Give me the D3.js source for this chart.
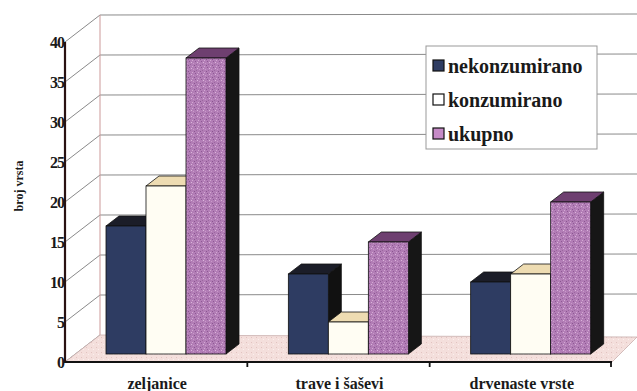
<!DOCTYPE html>
<html>
<head>
<meta charset="utf-8">
<script src="https://cdn.jsdelivr.net/npm/d3@7"></script>
<style>
  body { margin: 0; background: #fff; }
</style>
</head>
<body>
<div id="chart"></div>
<script>
const categories = ["zeljanice", "trave i šaševi", "drvenaste vrste"]
const seriesNames = ["nekonzumirano", "konzumirano", "ukupno"]
const nekonzumirano = [16, 10, 9]
const konzumirano = [21, 4, 10]
const ukupno = [37, 14, 19]
const yTicks = [0, 5, 10, 15, 20, 25, 30, 35, 40]

const seriesValues = [nekonzumirano, konzumirano, ukupno]
const front = { nekonzumirano: "#2e3c62", konzumirano: "#fffdf3", ukupno: "url(#speckle)" }
const topC = { nekonzumirano: "#1b1d28", konzumirano: "#eedcb2", ukupno: "#6e3f70" }
const sideC = { nekonzumirano: "#111", konzumirano: "#111", ukupno: "#161616" }
const legendFill = { nekonzumirano: "#2e3c62", konzumirano: "#fff", ukupno: "#c58ac6" }

const W = 637, H = 391
const depth = { dx: 35, dy: -27 }     // back wall offset
const barShift = { dx: 11, dy: -8 }   // bars sit a bit behind the front edge
const barDepth = { dx: 13, dy: -10 }
const FONT = '"Liberation Serif"'

const svg = d3.select("#chart").append("svg").attr("width", W).attr("height", H)
const defs = svg.append("defs")

// speckled purple fill
const pat = defs.append("pattern").attr("id", "speckle").attr("patternUnits", "userSpaceOnUse")
  .attr("width", 6).attr("height", 6)
pat.append("rect").attr("width", 6).attr("height", 6).attr("fill", "#b27db6")
;[[0,0,"#d3a8d3"],[3,1,"#8e5a94"],[1,3,"#c999c9"],[4,4,"#9b679f"],[5,2,"#dab5da"],[2,5,"#8a5690"]]
  .forEach(([x,y,c]) => pat.append("rect").attr("x", x).attr("y", y).attr("width", 1).attr("height", 1).attr("fill", c))

const floorPat = defs.append("pattern").attr("id", "floor").attr("patternUnits", "userSpaceOnUse")
  .attr("width", 5).attr("height", 5)
floorPat.append("rect").attr("width", 5).attr("height", 5).attr("fill", "#f4dfdc")
floorPat.append("rect").attr("x", 1).attr("y", 2).attr("width", 1).attr("height", 1).attr("fill", "#e2c3c0")
floorPat.append("rect").attr("x", 3).attr("y", 4).attr("width", 1).attr("height", 1).attr("fill", "#fbf0ee")

const xL = 65, xR = 612
const y = d3.scaleLinear().domain([0, 40]).range([362, 42])
const x0 = d3.scaleBand().domain(categories).range([xL, xR])
const x1 = d3.scaleBand().domain(seriesNames).range([30, 150])

const grid = svg.append("g").attr("stroke", "#8a8a8a").attr("stroke-width", 1).attr("fill", "none")

// back wall gridlines
yTicks.slice(1).forEach(v => {
  grid.append("line").attr("x1", xL + depth.dx).attr("x2", W)
    .attr("y1", y(v) + depth.dy).attr("y2", y(v) + depth.dy - 1)
})
// left wall diagonals
yTicks.forEach(v => {
  grid.append("line").attr("x1", xL).attr("y1", y(v))
    .attr("x2", xL + depth.dx).attr("y2", y(v) + depth.dy)
})
grid.append("line").attr("x1", xL + depth.dx).attr("x2", xL + depth.dx)
  .attr("y1", y(40) + depth.dy).attr("y2", y(0) + depth.dy).attr("stroke", "#c99")

// floor
svg.append("path")
  .attr("d", `M${xL},${y(0)} L${xR},${y(0)} L${W},${y(0) + depth.dy + 2} L${xL + depth.dx},${y(0) + depth.dy} Z`)
  .attr("fill", "url(#floor)").attr("stroke", "#c9b0ae").attr("stroke-width", 0.8)

// bars
const bars = svg.append("g")
categories.forEach((c, i) => {
  seriesNames.forEach((s, j) => {
    const v = seriesValues[j][i]
    const bx = x0(c) + x1(s) + barShift.dx
    const bw = x1.bandwidth()
    const by0 = y(0) + barShift.dy
    const by1 = y(v) + barShift.dy
    const g = bars.append("g").attr("stroke", "#111").attr("stroke-width", 0.8)
    g.append("path").attr("fill", sideC[s])
      .attr("d", `M${bx + bw},${by1} L${bx + bw + barDepth.dx},${by1 + barDepth.dy} L${bx + bw + barDepth.dx},${by0 + barDepth.dy} L${bx + bw},${by0} Z`)
    g.append("path").attr("fill", topC[s])
      .attr("d", `M${bx},${by1} L${bx + barDepth.dx},${by1 + barDepth.dy} L${bx + bw + barDepth.dx},${by1 + barDepth.dy} L${bx + bw},${by1} Z`)
    g.append("rect").attr("x", bx).attr("y", by1).attr("width", bw).attr("height", by0 - by1)
      .attr("fill", front[s])
  })
})

// axes
svg.append("line").attr("x1", xL).attr("x2", xL).attr("y1", y(40)).attr("y2", y(0) + 1)
  .attr("stroke", "#2a1212").attr("stroke-width", 2.2)
svg.append("line").attr("x1", xL).attr("x2", xR).attr("y1", y(0)).attr("y2", y(0))
  .attr("stroke", "#111").attr("stroke-width", 2.2)
const xTicks = categories.slice(1).map(c => x0(c)).concat([xR - 1])
xTicks.forEach(t => svg.append("line").attr("x1", t).attr("x2", t)
  .attr("y1", y(0)).attr("y2", y(0) + 5).attr("stroke", "#111").attr("stroke-width", 1.8))

const txt = sel => sel.style("font-family", FONT).style("font-weight", "bold").attr("fill", "#1a1a1a")

svg.append("g").selectAll("text").data(yTicks).join("text")
  .call(txt)
  .attr("x", xL - 1).attr("y", d => y(d)).attr("dy", "0.35em")
  .attr("text-anchor", "end").style("font-size", "16px").style("letter-spacing", "-1px")
  .text(d => d)

svg.append("g").selectAll("text").data(categories).join("text")
  .call(txt)
  .attr("x", d => x0(d) + x0.bandwidth() / 2 + 1)
  .attr("y", 389).attr("text-anchor", "middle").style("font-size", "16px")
  .text(d => d)

svg.append("text").call(txt)
  .attr("transform", "translate(23,186) rotate(-90)")
  .attr("text-anchor", "middle").style("font-size", "12px")
  .text("broj vrsta")

// legend
const lg = svg.append("g").attr("transform", "translate(426,46)")
lg.append("rect").attr("width", 171).attr("height", 103).attr("fill", "#fff").attr("stroke", "#999")
seriesNames.forEach((s, i) => {
  const row = lg.append("g").attr("transform", `translate(7,${20 + i * 34})`)
  row.append("rect").attr("x", 0).attr("y", -6).attr("width", 11).attr("height", 11)
    .attr("fill", legendFill[s]).attr("stroke", "#111").attr("stroke-width", 1.2)
  row.append("text").call(txt).attr("x", 15).attr("y", 0).attr("dy", "0.35em")
    .style("font-size", "20px").text(s)
})
</script>
</body>
</html>
